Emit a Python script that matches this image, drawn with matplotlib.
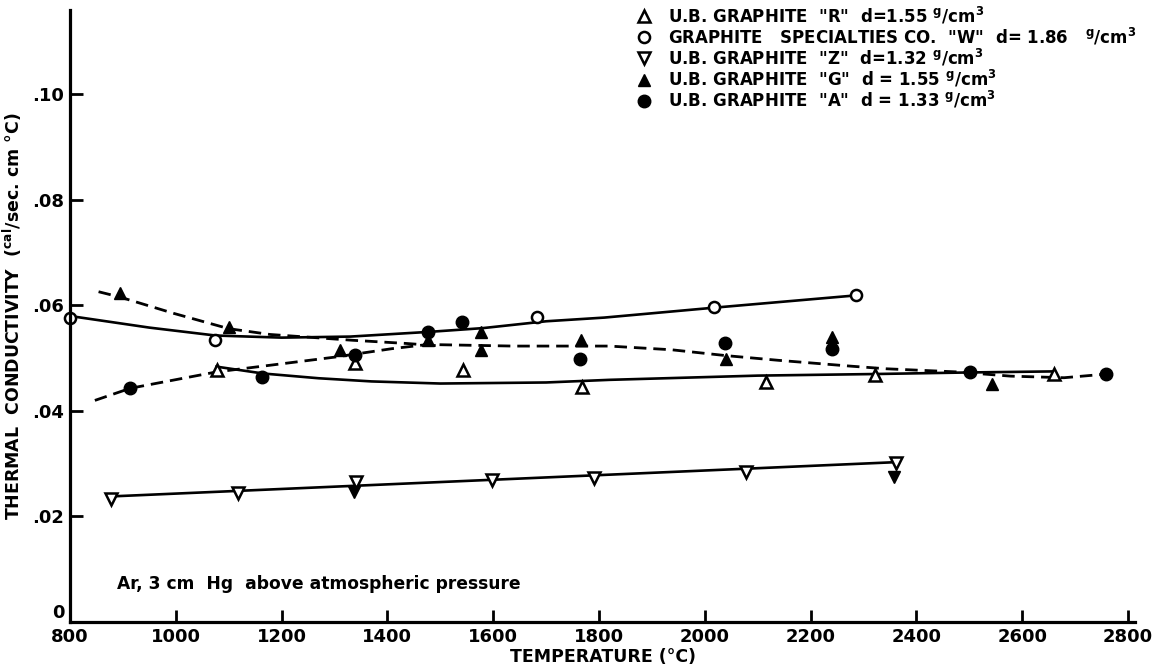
import matplotlib.pyplot as plt
import matplotlib.transforms as mtransforms
import numpy as np

plt.rcParams['font.family'] = 'DejaVu Sans'
plt.rcParams['font.weight'] = 'bold'
plt.rcParams['axes.labelweight'] = 'bold'
plt.rcParams['mathtext.default'] = 'bf'

# measured points, temperature (C) and conductivity (cal/sec cm C)
r_temp = [1077, 1339, 1542, 1768, 2116, 2322, 2659]
r_k = [0.0477, 0.0490, 0.0477, 0.0446, 0.0455, 0.0468, 0.0471]

w_temp = [800, 1075, 1682, 2018, 2285]
w_k = [0.0577, 0.0535, 0.0578, 0.0598, 0.0619]

z_temp = [877, 1117, 1340, 1597, 1790, 2078, 2361]
z_k = [0.0234, 0.0244, 0.0266, 0.0269, 0.0272, 0.0285, 0.0301]
# repeat runs on "Z" that print darker
z2_temp = [1337, 2357]
z2_k = [0.0247, 0.0275]

g_temp = [894, 1100, 1310, 1477, 1576, 1576, 1766, 2039, 2241, 2543]
g_k = [0.0623, 0.0559, 0.0515, 0.0534, 0.0550, 0.0515, 0.0534, 0.0499, 0.0540, 0.0452]

a_temp = [914, 1163, 1339, 1477, 1540, 1764, 2038, 2241, 2501, 2758]
a_k = [0.0443, 0.0465, 0.0506, 0.0550, 0.0569, 0.0499, 0.0528, 0.0518, 0.0474, 0.0471]

# hand-drawn fit curves
w_curve_t = [800, 950, 1075, 1200, 1330, 1480, 1580, 1700, 1810, 2020, 2285]
w_curve_k = [0.0580, 0.0558, 0.0543, 0.0539, 0.0541, 0.0550, 0.0557, 0.0570, 0.0577, 0.0596, 0.0619]

r_curve_t = [1077, 1165, 1270, 1370, 1500, 1700, 1820, 2100, 2320, 2500, 2660]
r_curve_k = [0.0484, 0.0471, 0.0462, 0.0456, 0.0452, 0.0454, 0.0459, 0.0467, 0.0470, 0.0473, 0.0475]

z_curve_t = [877, 2362]
z_curve_k = [0.0238, 0.0303]

g_curve_t = [854, 894, 996, 1100, 1178, 1334, 1435, 1503]
g_curve_k = [0.0626, 0.0616, 0.0585, 0.0556, 0.0545, 0.0534, 0.0528, 0.0523]

a_curve_t = [847, 914, 1077, 1165, 1300, 1408, 1476, 1638, 1819, 1937, 2039,
             2139, 2275, 2342, 2477, 2578, 2679, 2748]
a_curve_k = [0.0420, 0.0443, 0.0474, 0.0485, 0.0502, 0.0518, 0.0526, 0.0523,
             0.0523, 0.0516, 0.0505, 0.0496, 0.0485, 0.0480, 0.0474, 0.0466,
             0.0463, 0.0469]

x_ticks = [800, 1000, 1200, 1400, 1600, 1800, 2000, 2200, 2400, 2600, 2800]
y_ticks = [0, 0.02, 0.04, 0.06, 0.08, 0.10]
y_tick_labels = ['0', '.02', '.04', '.06', '.08', '.10']

fig = plt.figure(figsize=(11.61, 6.70), dpi=100)
ax = fig.add_axes([70 / 1161, 1 - 622 / 670, 1065 / 1161, 612 / 670])

dash = (0, (4.5, 2.5))
ax.plot(w_curve_t, w_curve_k, color='black', lw=1.9)
ax.plot(r_curve_t, r_curve_k, color='black', lw=1.9)
ax.plot(z_curve_t, z_curve_k, color='black', lw=1.9)
ax.plot(g_curve_t, g_curve_k, color='black', lw=2.0, linestyle=dash)
ax.plot(a_curve_t, a_curve_k, color='black', lw=2.0, linestyle=dash)

ms = 8
ax.plot(r_temp, r_k, '^', ms=ms, mfc='white', mec='black', mew=1.8, ls='none',
        label='U.B. GRAPHITE  "R"  d=1.55 $^{g}$/cm$^{3}$', clip_on=False)
ax.plot(w_temp, w_k, 'o', ms=ms, mfc='white', mec='black', mew=1.8, ls='none',
        label='GRAPHITE   SPECIALTIES CO.  "W"  d= 1.86   $^{g}$/cm$^{3}$', clip_on=False)
ax.plot(z_temp, z_k, 'v', ms=ms, mfc='white', mec='black', mew=1.8, ls='none',
        label='U.B. GRAPHITE  "Z"  d=1.32 $^{g}$/cm$^{3}$')
ax.plot(z2_temp, z2_k, 'v', ms=ms, color='black', ls='none')
ax.plot(g_temp, g_k, '^', ms=ms + 1, color='black', ls='none',
        label='U.B. GRAPHITE  "G"  d = 1.55 $^{g}$/cm$^{3}$')
ax.plot(a_temp, a_k, 'o', ms=ms + 1, color='black', ls='none',
        label='U.B. GRAPHITE  "A"  d = 1.33 $^{g}$/cm$^{3}$')

ax.set_xlim(800, 2813)
ax.set_ylim(0, 0.116)
ax.set_xticks(x_ticks)
ax.set_xticklabels([str(t) for t in x_ticks], fontsize=13)
ax.set_yticks(y_ticks)
ax.set_yticklabels(y_tick_labels, fontsize=13)

# the "0" sits just above the x axis, clear of "800"
zero_label = ax.get_yticklabels()[0]
zero_label.set_verticalalignment('bottom')

for side in ['top', 'right']:
    ax.spines[side].set_visible(False)
for side in ['left', 'bottom']:
    ax.spines[side].set_linewidth(2.3)
ax.tick_params(direction='in', length=9, width=2, pad=4)

ax.set_xlabel('TEMPERATURE (°C)', fontsize=12.5, labelpad=2)
ax.set_ylabel('THERMAL  CONDUCTIVITY  ($^{cal}$/sec. cm °C)', fontsize=12.5, labelpad=6)

ax.text(0.044, 0.062, 'Ar, 3 cm  Hg  above atmospheric pressure',
        transform=ax.transAxes, fontsize=12.3, ha='left', va='center')

ax.legend(loc='upper left', bbox_to_anchor=(636 / 1161, 1 - 5 / 670),
          bbox_transform=fig.transFigure, frameon=False, fontsize=12,
          handletextpad=1.0, handlelength=0.9, labelspacing=0.0,
          borderaxespad=0, borderpad=0)

fig.savefig('out.png', dpi=100)
